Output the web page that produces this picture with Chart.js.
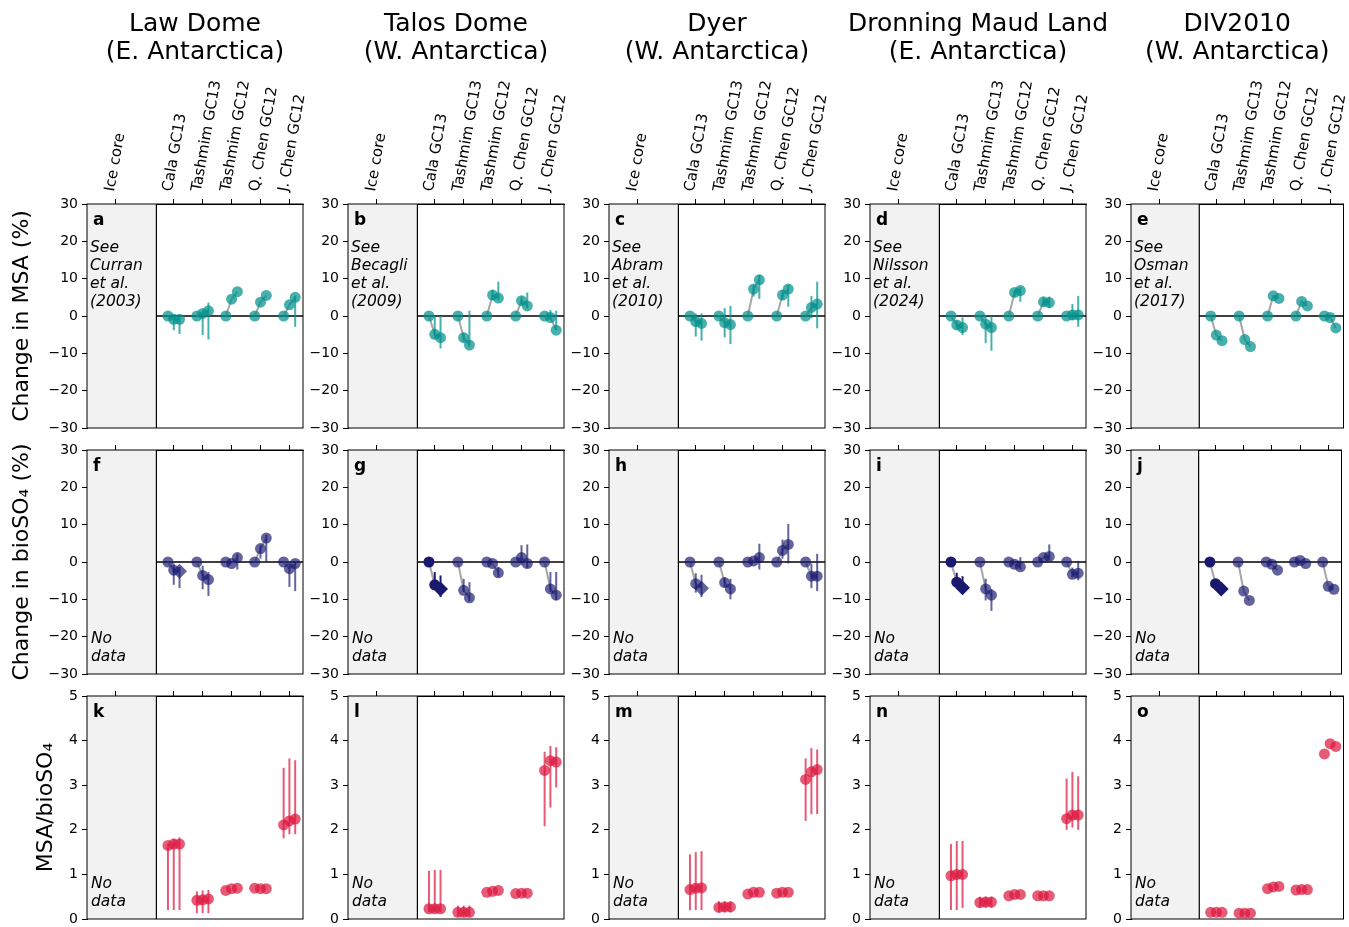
<!DOCTYPE html>
<html><head><meta charset="utf-8">
<script src="https://cdn.jsdelivr.net/npm/chart.js@4.4.1/dist/chart.umd.min.js"></script>
<style>
html,body{margin:0;padding:0;background:#fff;width:1349px;height:927px;overflow:hidden;}
#wrap{position:relative;width:1349px;height:927px;}
canvas{position:absolute;}
</style></head><body><div id="wrap"></div>
<script>
// ---------------- DATA ----------------
const siteNames = ['Law Dome', 'Talos Dome', 'Dyer', 'Dronning Maud Land', 'DIV2010'];
const siteRegions = ['(E. Antarctica)', '(W. Antarctica)', '(W. Antarctica)', '(E. Antarctica)', '(W. Antarctica)'];
const categories = ['Ice core', 'Cala GC13', 'Tashmim GC13', 'Tashmim GC12', 'Q. Chen GC12', 'J. Chen GC12'];
const categoryPositions = [1, 3, 4, 5, 6, 7];
const changeTicks = [-30, -20, -10, 0, 10, 20, 30];
const ratioTicks = [0, 1, 2, 3, 4, 5];
const panelLetters = ['a','b','c','d','e','f','g','h','i','j','k','l','m','n','o'];
const msaNotes = ['See\nCurran\net al.\n(2003)', 'See\nBecagli\net al.\n(2009)', 'See\nAbram\net al.\n(2010)', 'See\nNilsson\net al.\n(2024)', 'See\nOsman\net al.\n(2017)'];
const noDataNote = 'No\ndata';
const rowTitles = ['Change in MSA (%)', 'Change in bioSO\u2084 (%)', 'MSA/bioSO\u2084'];

// Change in MSA (%) : per model [reference, period 1, period 2]
const msaLawDome = [[0,-0.9,-0.9],[0,0.7,1.4],[0,4.5,6.5],[0,3.7,5.5],[0,3.0,5.0]];
const msaTalosDome = [[0,-4.9,-5.8],[0,-5.8,-7.8],[0,5.6,4.8],[0,4.1,2.7],[0,-0.4,-3.8]];
const msaDyer = [[0,-1.5,-2.0],[0,-1.8,-2.3],[0,7.2,9.7],[0,5.6,7.2],[0,2.3,3.2]];
const msaDML = [[0,-2.4,-3.1],[0,-2.2,-3.1],[0,6.3,6.8],[0,3.8,3.6],[0,0.3,0.3]];
const msaDIV = [[0,-5.1,-6.6],[0,-6.3,-8.2],[0,5.4,4.7],[0,3.9,2.7],[0,-0.4,-3.2]];
// ranges [low, high]
const msaLawDomeErr = [[null,[-3.8,0],[-4.8,0]],[null,[-5.1,1.5],[-6.3,3.6]],[null,null,null],[null,null,null],[null,null,[-2.9,5.5]]];
const msaTalosDomeErr = [[null,[-6.0,0],[-8.7,0]],[null,[-6.9,-4.5],[-8.2,1.4]],[null,[4.3,7.0],[4.3,9.2]],[null,[3.0,5.2],[2.0,6.3]],[null,[-1.0,1.6],[-3.8,1.4]]];
const msaDyerErr = [[null,[-5.5,0.7],[-6.6,0.7]],[null,[-5.7,2.1],[-7.5,2.7]],[null,[5.2,8.3],[4.6,11.0]],[null,[4.3,7.0],[2.5,8.3]],[null,[-0.6,5.4],[-3.3,9.2]]];
const msaDMLErr = [[null,[-3.5,-1.2],[-5.1,-0.4]],[null,[-7.3,0.3],[-9.3,0]],[null,[5.1,7.0],[3.8,7.7]],[null,[2.7,5.0],[2.1,5.2]],[null,[-1.1,3.2],[-2.9,5.4]]];
const msaDIVErr = null;

// Change in bioSO4 (%)
const bioLawDome = [[0,-2.2,-2.5],[0,-3.6,-4.7],[0,-0.4,1.2],[0,3.6,6.4],[0,-1.8,-0.4]];
const bioTalosDome = [[0,-6.1,-7.2],[0,-7.6,-9.6],[0,-0.4,-2.9],[0,1.2,-0.4],[0,-7.2,-8.9]];
const bioDyer = [[0,-5.8,-7.0],[0,-5.5,-7.2],[0,0.3,1.2],[0,3.1,4.7],[0,-3.8,-3.8]];
const bioDML = [[0,-5.4,-6.9],[0,-7.2,-8.9],[0,-0.6,-1.3],[0,1.2,1.5],[0,-3.3,-3.0]];
const bioDIV = [[0,-5.8,-7.2],[0,-7.8,-10.3],[0,-0.6,-2.2],[0,0.4,-0.4],[0,-6.5,-7.3]];
const bioLawDomeErr = [[null,[-6.1,-0.4],[-7.0,-1.3]],[null,[-7.3,-1.0],[-9.1,-2.7]],[null,null,[-2.0,2.2]],[null,[0.9,4.5],[0,7.3]],[null,[-6.7,-0.4],[-7.8,0]]];
const bioTalosDomeErr = [[null,[-6.7,-2.7],[-9.4,-3.6]],[null,[-8.0,-4.5],[-10.5,-5.4]],[null,null,[-4.0,-1.3]],[null,[-0.9,4.5],[-1.6,4.7]],[null,[-8.1,-2.7],[-10.2,-2.7]]];
const bioDyerErr = [[null,[-8.2,-3.0],[-9.4,-3.4]],[null,[-6.8,-4.2],[-10.0,-4.5]],[null,null,[-2.0,4.9]],[null,[0.9,6.0],[-0.4,10.2]],[null,[-7.0,-0.4],[-7.8,2.2]]];
const bioDMLErr = [[null,[-6.3,-2.9],[-8.1,-3.8]],[null,[-10.3,-4.5],[-13.1,-7.2]],[null,null,[-2.0,1.3]],[null,null,[0.4,4.7]],[null,[-4.2,-1.5],[-4.9,0.3]]];
const bioDIVErr = null;
const bioCalaOpaque = [false, true, false, true, true];

// MSA/bioSO4 ratio
const ratioLawDome = [[1.65,1.68,1.68],[0.42,0.43,0.45],[0.64,0.68,0.69],[0.69,0.68,0.68],[2.11,2.20,2.24]];
const ratioTalosDome = [[0.23,0.23,0.23],[0.15,0.15,0.15],[0.60,0.62,0.64],[0.57,0.58,0.58],[3.33,3.55,3.52]];
const ratioDyer = [[0.66,0.69,0.70],[0.26,0.27,0.27],[0.56,0.60,0.60],[0.58,0.60,0.60],[3.13,3.30,3.35]];
const ratioDML = [[0.97,1.00,1.00],[0.37,0.38,0.38],[0.52,0.55,0.55],[0.52,0.52,0.52],[2.25,2.33,2.33]];
const ratioDIV = [[0.15,0.15,0.15],[0.13,0.13,0.13],[0.68,0.72,0.73],[0.65,0.66,0.66],[3.70,3.93,3.87]];
const ratioLawDomeErr = [[[0.2,1.68],[0.2,1.8],[0.2,1.83]],[[0.13,0.62],[0.13,0.64],[0.13,0.65]],[null,null,null],[null,null,null],[[1.81,3.39],[1.9,3.6],[1.9,3.56]]];
const ratioTalosDomeErr = [[[0.15,1.08],[0.15,1.1],[0.15,1.1]],[[0.05,0.3],[0.05,0.3],[0.05,0.3]],[null,null,null],[null,null,null],[[2.08,3.75],[2.5,3.88],[2.95,3.85]]];
const ratioDyerErr = [[[0.2,1.45],[0.2,1.5],[0.2,1.52]],[[0.15,0.4],[0.15,0.4],[0.15,0.4]],[null,null,null],[null,null,null],[[2.2,3.6],[2.35,3.83],[2.35,3.8]]];
const ratioDMLErr = [[[0.2,1.68],[0.2,1.75],[0.25,1.75]],[[0.25,0.5],[0.25,0.5],[0.25,0.5]],[null,null,null],[null,null,null],[[2.0,3.15],[2.05,3.3],[2.0,3.2]]];
const ratioDIVErr = null;

// ---------------- LAYOUT / STYLE ----------------
const FONT = 'DejaVu Sans';
const L = [87, 348, 609, 870, 1131];
const T = [204, 450, 696], B = [428, 674, 919];
const PW = 216;
const XMAX = 7.47, SHADE = 2.4, OFFS = [-0.2, 0, 0.2];
const TEAL = 'rgba(0,145,140,0.72)';
const NAVY = 'rgba(25,25,112,0.68)';
const NAVY_SOLID = 'rgb(25,25,112)';
const CRIMSON = 'rgba(220,20,60,0.7)';
const LINE_GRAY = 'rgba(128,128,128,0.7)';

const rows = [
  {vals:[msaLawDome,msaTalosDome,msaDyer,msaDML,msaDIV], errs:[msaLawDomeErr,msaTalosDomeErr,msaDyerErr,msaDMLErr,msaDIVErr], color:TEAL, ticks:changeTicks, min:-30, max:30, zero:true, line:true},
  {vals:[bioLawDome,bioTalosDome,bioDyer,bioDML,bioDIV], errs:[bioLawDomeErr,bioTalosDomeErr,bioDyerErr,bioDMLErr,bioDIVErr], color:NAVY, ticks:changeTicks, min:-30, max:30, zero:true, line:true},
  {vals:[ratioLawDome,ratioTalosDome,ratioDyer,ratioDML,ratioDIV], errs:[ratioLawDomeErr,ratioTalosDomeErr,ratioDyerErr,ratioDMLErr,ratioDIVErr], color:CRIMSON, ticks:ratioTicks, min:0, max:5, zero:false, line:false}
];

const errPlugin = {
  id:'errbars',
  afterDatasetsDraw(chart){
    const ctx = chart.ctx, ys = chart.scales.y;
    chart.data.datasets.forEach((ds, di) => {
      if (!ds.errBars) return;
      const meta = chart.getDatasetMeta(di);
      ds.errBars.forEach((e, k) => {
        if (!e) return;
        const px = meta.data[k].x;
        ctx.save();
        ctx.strokeStyle = ds.errColors[k];
        ctx.lineWidth = 2;
        ctx.beginPath();
        ctx.moveTo(px, ys.getPixelForValue(e[0]));
        ctx.lineTo(px, ys.getPixelForValue(e[1]));
        ctx.stroke();
        ctx.restore();
      });
    });
  }
};

const decoPlugin = {
  id:'deco',
  beforeDatasetsDraw(chart, args, o){
    const ctx = chart.ctx, a = chart.chartArea, xs = chart.scales.x, ys = chart.scales.y;
    const xb = xs.getPixelForValue(SHADE);
    ctx.save();
    ctx.fillStyle = '#f2f2f2';
    ctx.fillRect(a.left, a.top, xb - a.left, a.bottom - a.top);
    ctx.strokeStyle = '#000';
    ctx.lineWidth = 1.2;
    ctx.beginPath(); ctx.moveTo(xb, a.top); ctx.lineTo(xb, a.bottom); ctx.stroke();
    if (o.zero) {
      const y0 = ys.getPixelForValue(0);
      ctx.lineWidth = 1.5;
      ctx.beginPath(); ctx.moveTo(xb, y0); ctx.lineTo(a.right, y0); ctx.stroke();
    }
    ctx.lineWidth = 1;
    ctx.strokeRect(a.left, a.top, a.right - a.left, a.bottom - a.top);
    // panel letter
    ctx.fillStyle = '#000';
    ctx.textBaseline = 'middle';
    ctx.textAlign = 'left';
    ctx.font = 'bold 17px "' + FONT + '"';
    ctx.fillText(o.letter, a.left + 6, a.top + 17);
    // note
    ctx.font = 'italic 15.5px "' + FONT + '"';
    const lines = o.note.split('\n');
    if (o.noteTop) {
      lines.forEach((s, i) => ctx.fillText(s, a.left + 3, a.top + 44 + i * 18));
    } else {
      lines.forEach((s, i) => ctx.fillText(s, a.left + 4, a.bottom - 17 - (lines.length - 1 - i) * 18));
    }
    // column title
    if (o.title) {
      ctx.textAlign = 'center';
      ctx.font = '25px "' + FONT + '"';
      const cx = (a.left + a.right) / 2;
      ctx.fillText(o.title[0], cx, 24);
      ctx.fillText(o.title[1], cx, 52);
    }
    ctx.restore();
  }
};

const wrap = document.getElementById('wrap');
const fmt = v => v < 0 ? '\u2212' + Math.abs(v) : String(v);

for (let r = 0; r < 3; r++) {
  for (let c = 0; c < 5; c++) {
    const row = rows[r];
    const canvasLeft = c === 0 ? 0 : L[c] - 45;
    const yW = L[c] - canvasLeft;
    const padR = Math.min(30, 1349 - (L[c] + PW));
    const cw = yW + PW + padR;
    const topH = r === 0 ? T[0] : 12;
    const canvasTop = r === 0 ? 0 : T[r] - 12;
    const ch = (B[r] - T[r]) + topH + 10;
    const cv = document.createElement('canvas');
    cv.width = cw; cv.height = ch;
    cv.style.left = canvasLeft + 'px'; cv.style.top = canvasTop + 'px';
    cv.style.width = cw + 'px'; cv.style.height = ch + 'px';
    wrap.appendChild(cv);

    const vals = row.vals[c], errs = row.errs[c];
    const datasets = vals.map((g, gi) => {
      const opaque = (r === 1 && gi === 0 && bioCalaOpaque[c]);
      const col = opaque ? NAVY_SOLID : row.color;
      const diamond = (r === 1 && gi === 0);
      return {
        data: g.map((v, k) => ({x: categoryPositions[gi + 1] + OFFS[k], y: v})),
        showLine: row.line,
        borderColor: LINE_GRAY,
        borderWidth: 2,
        pointRadius: g.map((v, k) => (diamond && k === 2) ? 7.5 : 5.5),
        pointStyle: g.map((v, k) => (diamond && k === 2) ? 'rectRot' : 'circle'),
        pointBackgroundColor: g.map(() => col),
        pointBorderWidth: 0,
        pointBorderColor: 'rgba(0,0,0,0)',
        errBars: errs ? errs[gi] : null,
        errColors: g.map(() => col),
        clip: false
      };
    });

    new Chart(cv, {
      type: 'line',
      data: {datasets},
      plugins: [decoPlugin, errPlugin],
      options: {
        responsive: false, animation: false, devicePixelRatio: 1,
        events: [],
        layout: {padding: {top: 0, left: 0, right: padR, bottom: 10}},
        plugins: {
          legend: {display: false}, tooltip: {enabled: false},
          deco: {
            letter: panelLetters[r * 5 + c],
            note: r === 0 ? msaNotes[c] : noDataNote,
            noteTop: r === 0,
            zero: row.zero,
            title: r === 0 ? [siteNames[c], siteRegions[c]] : null
          }
        },
        scales: {
          x: {
            type: 'linear', position: 'top', min: 0, max: XMAX,
            afterBuildTicks: s => { s.ticks = categoryPositions.map(v => ({value: v})); },
            afterFit: s => { s.height = topH; s.paddingLeft = 0; s.paddingRight = 0; },
            ticks: {display: r === 0, autoSkip: false, minRotation: 80, maxRotation: 80, color: '#000',
              font: {family: FONT, size: 15}, padding: 6, labelOffset: 12, callback: (v, i) => categories[i]},
            grid: {display: true, drawOnChartArea: false, drawTicks: true, tickLength: 5, color: '#000', lineWidth: 1},
            border: {display: true, color: '#000', width: 1}
          },
          y: {
            type: 'linear', position: 'left', min: row.min, max: row.max,
            afterBuildTicks: s => { s.ticks = row.ticks.map(v => ({value: v})); },
            afterFit: s => { s.width = yW; s.paddingTop = 0; s.paddingBottom = 0; },
            ticks: {color: '#000', font: {family: FONT, size: 14}, padding: 4, callback: v => fmt(v)},
            grid: {display: true, drawOnChartArea: false, drawTicks: true, tickLength: 5, color: '#000', lineWidth: 1},
            border: {display: true, color: '#000', width: 1},
            title: c === 0 ? {display: true, text: rowTitles[r], color: '#000',
              font: {family: FONT, size: 22}, padding: {top: r === 2 ? 33 : 9, bottom: 0}} : {display: false}
          }
        }
      }
    });
  }
}
</script></body></html>
